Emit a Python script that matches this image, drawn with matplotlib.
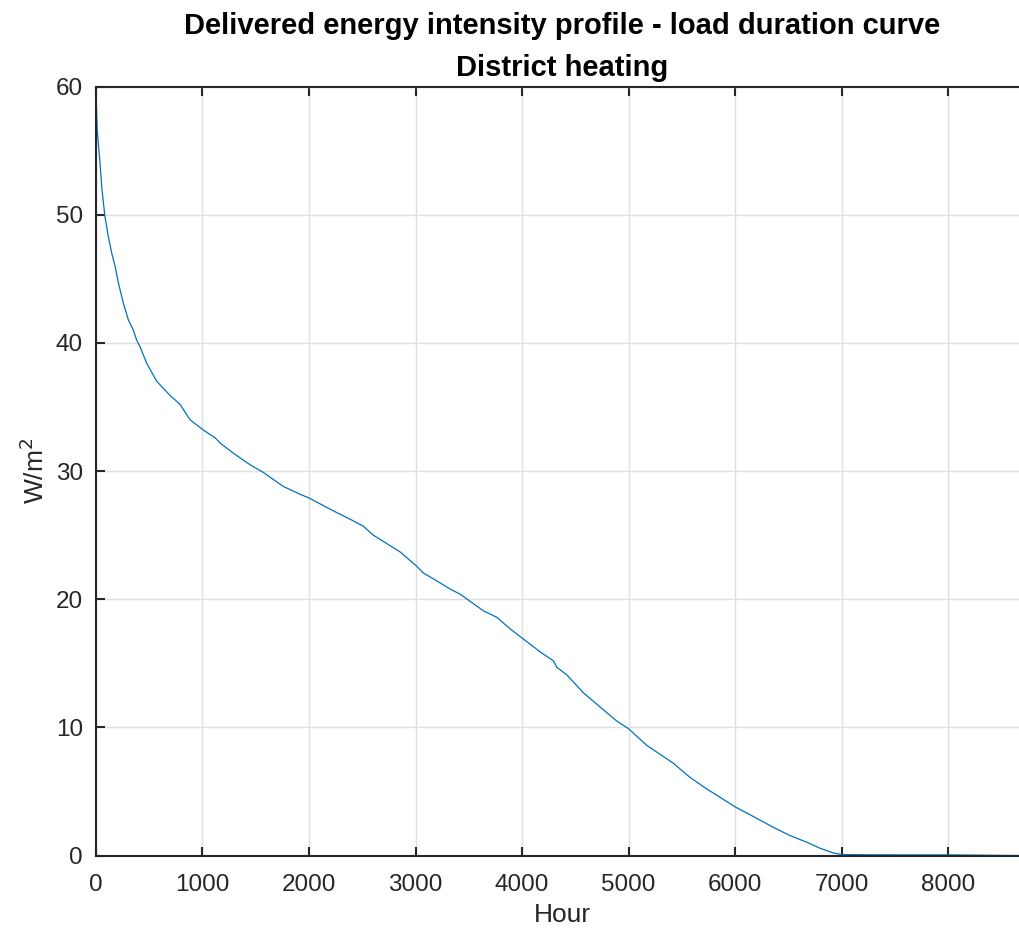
import matplotlib
matplotlib.use('Agg')
import matplotlib.pyplot as plt

plt.rcParams['font.family'] = ['Liberation Sans', 'DejaVu Sans']

# load duration curve (hour, W/m2)
hours = [0, 12, 38, 56, 82, 116, 148, 179, 210, 257, 304, 351, 383, 414, 477,
         571, 696, 790, 884, 1009, 1119, 1164, 1289, 1446, 1571, 1759, 1915,
         2000, 2228, 2385, 2510, 2604, 2854, 3002, 3073, 3167, 3324, 3418,
         3637, 3762, 3887, 4012, 4169, 4294, 4326, 4420, 4576, 4732, 4889,
         5000, 5171, 5296, 5421, 5577, 5734, 5859, 6000, 6171, 6359, 6516,
         6673, 6798, 6923, 7000, 7200, 7600, 8000, 8300, 8500, 8760]
load = [59.5, 56.6, 54.0, 52.0, 50.0, 48.3, 47.0, 46.0, 44.7, 43.1, 41.8, 41.0,
        40.2, 39.7, 38.4, 37.0, 35.9, 35.2, 34.0, 33.2, 32.6, 32.2, 31.4, 30.5,
        29.9, 28.8, 28.2, 27.9, 26.9, 26.25, 25.7, 25.0, 23.7, 22.65, 22.05,
        21.6, 20.8, 20.4, 19.1, 18.6, 17.7, 16.9, 15.9, 15.2, 14.7, 14.1, 12.7,
        11.6, 10.5, 9.9, 8.6, 7.9, 7.2, 6.1, 5.2, 4.55, 3.8, 3.05, 2.2, 1.56,
        1.04, 0.57, 0.2, 0.08, 0.06, 0.05, 0.05, 0.03, 0.01, 0.0]

xticks = [0, 1000, 2000, 3000, 4000, 5000, 6000, 7000, 8000]
yticks = [0, 10, 20, 30, 40, 50, 60]

fig = plt.figure(figsize=(10.2, 9.35), dpi=100)
ax = fig.add_axes([0.0941, 0.085, 0.9147, 0.8223])

ax.plot(hours, load, color='#0072BD', linewidth=0.9)

ax.set_xlim(0, 8760)
ax.set_ylim(0, 60)
ax.set_xticks(xticks)
ax.set_yticks(yticks)
ax.grid(True, color='#dfdfdf', linewidth=1.0)
ax.set_axisbelow(True)

for side in ['left', 'bottom', 'top', 'right']:
    ax.spines[side].set_color('#262626')
    ax.spines[side].set_linewidth(1.5)
ax.tick_params(direction='in', length=6.5, width=1.5, colors='#262626',
               labelsize=17.5, top=True)
ax.tick_params(axis='x', pad=13)
ax.tick_params(axis='y', pad=9.5)

ax.set_xlabel('Hour', fontsize=19, color='#262626', labelpad=5)
ax.set_ylabel('W/m$^2$', fontsize=19, color='#262626', labelpad=5)
ax.set_title('Delivered energy intensity profile - load duration curve\nDistrict heating',
             fontsize=21, fontweight='bold', linespacing=1.6, pad=8)

fig.savefig('out.png', dpi=100)
